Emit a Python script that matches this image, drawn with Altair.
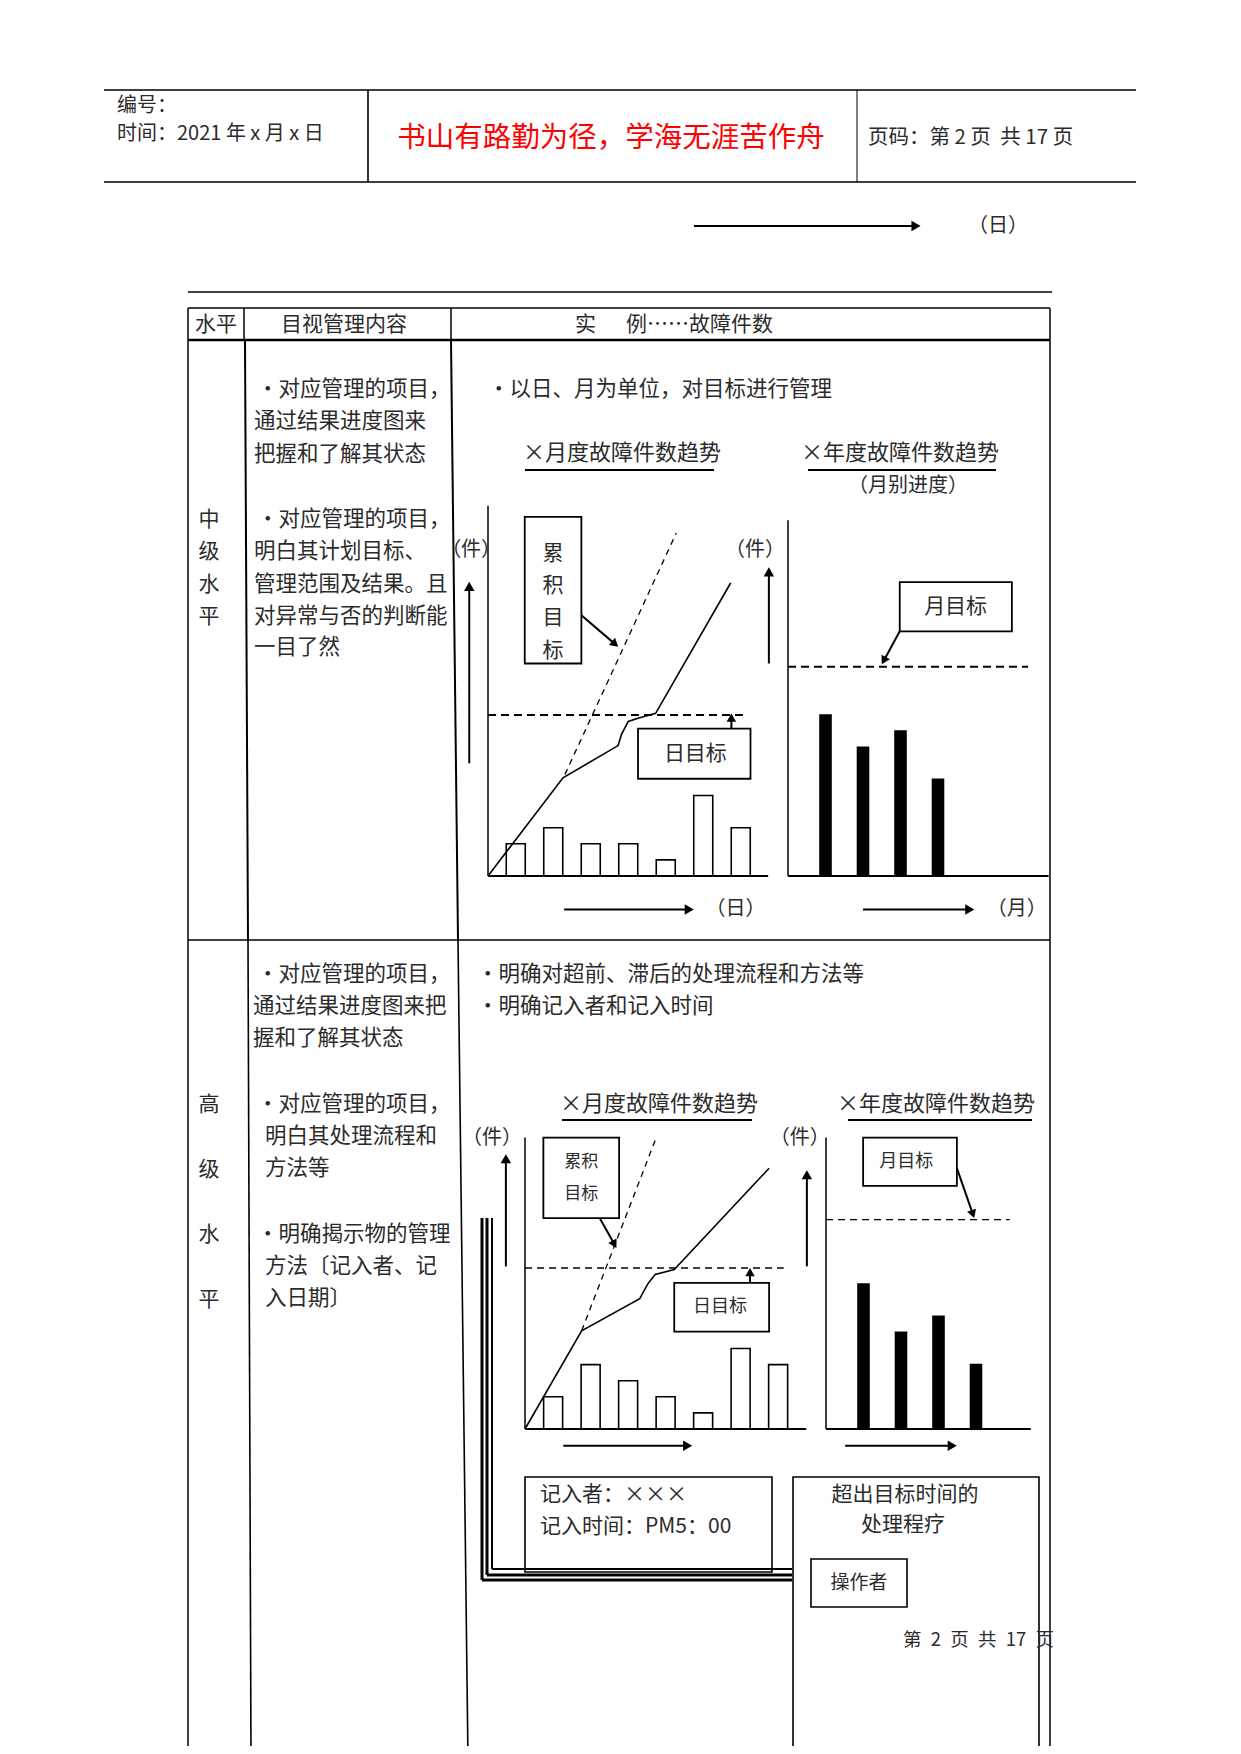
import math
import altair as alt
import pandas as pd

OFF = 8
W, H = 1225, 1738
FONT = "Noto Sans CJK SC"
INK = "#2b2b2b"
NB = "\u00a0"
EN = "\u2002"

# ---------------- chart values ----------------
# 中级水平 · ×月度故障件数趋势 (per day)
mid_days = [1, 2, 3, 4, 5, 6, 7]
mid_daily_faults = [2, 3, 2, 2, 1, 5, 3]
mid_cum_day = [0.26, 2.26, 3.73, 3.82, 4.00, 4.26, 4.73, 6.73]
mid_cum_faults = [0, 6.1, 8.1, 8.8, 9.6, 9.8, 10.1, 18.2]
mid_cum_target_day = [2.31, 5.28]
mid_cum_target = [6.3, 21.3]
mid_daily_target = 10
# 中级水平 · ×年度故障件数趋势 (per month)
mid_months = [1, 2, 3, 4]
mid_monthly_faults = [10, 8, 9, 6]
mid_monthly_target = 13

# 高级水平 · ×月度故障件数趋势
high_days = [1, 2, 3, 4, 5, 6, 7]
high_daily_faults = [2, 4, 3, 2, 1, 5, 4]
high_cum_day = [0.25, 1.76, 3.31, 3.52, 3.72, 4.23, 6.76]
high_cum_faults = [0, 6.1, 8.1, 9.0, 9.6, 9.9, 16.2]
high_cum_target_day = [1.76, 3.75]
high_cum_target = [6.1, 18.1]
high_daily_target = 10
# 高级水平 · ×年度故障件数趋势
high_months = [1, 2, 3, 4]
high_monthly_faults = [9, 6, 7, 4]
high_monthly_target = 13


def ang(dx, dy):
    return math.degrees(math.atan2(dx, -dy)) % 360


# ---------------- page layout (table, header, text) ----------------
L_lines, L_texts, L_heads, L_rects = [], [], [], []


def seg(x1, y1, x2, y2, w=1.5):
    L_lines.append(dict(x=x1 - OFF, y=y1 - OFF, x2=x2 - OFF, y2=y2 - OFF, w=w))


def txt(s, x, y, size=21.5, align="left", color=INK):
    L_texts.append(dict(t=s, x=x - OFF, y=y - OFF, s=size, al=align, c=color))


def box(x1, y1, x2, y2):
    L_rects.append(dict(x=x1 - OFF, y=y1 - OFF, x2=x2 - OFF, y2=y2 - OFF))


def arrow_px(x1, y1, x2, y2, w=2, hs=110, back=5):
    dx, dy = x2 - x1, y2 - y1
    L = math.hypot(dx, dy)
    cx, cy = x2 - dx / L * back, y2 - dy / L * back
    seg(x1, y1, cx, cy, w)
    L_heads.append(dict(x=cx - OFF, y=cy - OFF, a=ang(dx, dy), s=hs))


# header
seg(104, 90, 1136, 90, 1.3)
seg(104, 182, 1136, 182, 1.3)
seg(368, 90, 368, 182, 1.6)
seg(857, 90, 857, 182, 1)
txt("编号：", 117, 106, 20)
txt("时间：2021 年 x 月 x 日", 117, 134, 20)
txt("书山有路勤为径，学海无涯苦作舟", 611, 138, 28.5, "center", "#ff0000")
txt("页码：第" + NB + "2" + NB + "页" + NB + NB + "共" + NB + "17" + NB + "页", 868, 138, 20.5)

# top arrow
arrow_px(694, 226, 921, 226, 2.2)
txt("（日）", 998, 226, 20, "center")
seg(188, 292, 1052, 292, 1.6)

# table frame
seg(188, 308, 1050, 308, 1.5)
seg(188, 340, 1050, 340, 2.6)
seg(188, 308, 188, 1760, 1.5)
seg(1050, 308, 1050, 1760, 1.5)
seg(188, 940, 1050, 940, 1.5)
seg(244, 308, 244, 340, 1.5)
seg(245, 340, 248, 940, 2)
seg(248, 940, 251, 1760, 1.6)
seg(451, 308, 451, 340, 1.5)
seg(451, 340, 458, 940, 2)
seg(458, 940, 468, 1760, 1.6)

txt("水平", 216, 325, 21, "center")
txt("目视管理内容", 344, 325, 21, "center")
txt("实", 575, 325, 21)
txt("例……故障件数", 626, 325, 21)

# row 1 : 中级水平
for ch, yy in zip("中级水平", [520, 552, 585, 617]):
    txt(ch, 209, yy, 21, "center")
row1_col2 = [("•对应管理的项目，", 257, 390), ("通过结果进度图来", 254, 422),
             ("把握和了解其状态", 254, 455), ("•对应管理的项目，", 257, 520),
             ("明白其计划目标、", 254, 552), ("管理范围及结果。且", 254, 585),
             ("对异常与否的判断能", 254, 617), ("一目了然", 254, 648)]
for s, xx, yy in row1_col2:
    txt(s, xx, yy)
txt("•以日、月为单位，对目标进行管理", 488, 390)
txt("×月度故障件数趋势", 622, 453, 22, "center")
seg(525, 470, 714, 470, 2)
txt("×年度故障件数趋势", 900, 453, 22, "center")
seg(808, 470, 996, 470, 2)
txt("（月别进度）", 908, 486, 20, "center")

# row 2 : 高级水平
for ch, yy in zip("高级水平", [1105, 1170, 1235, 1300]):
    txt(ch, 209, yy, 21, "center")
row2_col2 = [("•对应管理的项目，", 257, 975), ("通过结果进度图来把", 253, 1007),
             ("握和了解其状态", 253, 1039), ("•对应管理的项目，", 257, 1105),
             ("明白其处理流程和", 265, 1137), ("方法等", 265, 1169),
             ("•明确揭示物的管理", 257, 1235), ("方法〔记入者、记", 265, 1267),
             ("入日期〕", 265, 1299)]
for s, xx, yy in row2_col2:
    txt(s, xx, yy)
txt("•明确对超前、滞后的处理流程和方法等", 477, 975)
txt("•明确记入者和记入时间", 477, 1007)
txt("×月度故障件数趋势", 659, 1104, 22, "center")
seg(562, 1120, 752, 1120, 2)
txt("×年度故障件数趋势", 936, 1104, 22, "center")
seg(848, 1120, 1032, 1120, 2)

# triple border lines
seg(492, 1218, 492, 1569, 2)
seg(492, 1569, 792, 1569, 2)
seg(487, 1218, 487, 1575, 3)
seg(487, 1575, 792, 1575, 3)
seg(482, 1218, 482, 1580, 3)
seg(482, 1580, 792, 1580, 3)

# bottom boxes
box(525, 1477, 772, 1572)
box(793, 1477, 1039, 1770)
box(811, 1559, 907, 1607)
txt("记入者：×××", 540, 1495, 21)
txt("记入时间：PM5：00", 540, 1527, 21)
txt("超出目标时间的", 905, 1495, 21, "center")
txt("处理程疗", 903, 1525, 21, "center")
txt("操作者", 859, 1583, 19, "center")
txt("第" + EN + "2" + EN + "页" + EN + "共" + EN + "17" + EN + "页", 903, 1640, 18.5)


def layout_chart():
    NX = lambda f: alt.X(f, type="quantitative", scale=None, axis=None)
    NY = lambda f: alt.Y(f, type="quantitative", scale=None, axis=None)
    layers = [
        alt.Chart(pd.DataFrame(L_rects)).mark_rect(fill="white", stroke="black", strokeWidth=1.6)
        .encode(x=NX("x"), x2=alt.X2("x2"), y=NY("y"), y2=alt.Y2("y2")),
        alt.Chart(pd.DataFrame(L_lines)).mark_rule(color="black")
        .encode(x=NX("x"), x2=alt.X2("x2"), y=NY("y"), y2=alt.Y2("y2"),
                strokeWidth=alt.StrokeWidth("w:Q", scale=None, legend=None)),
        alt.Chart(pd.DataFrame(L_heads)).mark_point(shape="triangle-up", filled=True, color="black", opacity=1)
        .encode(x=NX("x"), y=NY("y"), angle=alt.Angle("a:Q", scale=None),
                size=alt.Size("s:Q", scale=None, legend=None)),
    ]
    tdf = pd.DataFrame(L_texts)
    for al in ["left", "center"]:
        layers.append(
            alt.Chart(tdf[tdf.al == al]).mark_text(font=FONT, align=al, baseline="middle")
            .encode(x=NX("x"), y=NY("y"), text="t:N",
                    size=alt.Size("s:Q", scale=None, legend=None),
                    color=alt.Color("c:N", scale=None, legend=None)))
    return alt.layer(*layers)


# ---------------- small charts (drawn through their own scales) ----------------
def mini(ox, oy, ux, uy, x0, xlen, ylen, bars_x, bars_y, bar_size, bar_fill,
         cum=None, cum_target=None, target=None, target_len=None, target_w=2.0,
         target_dash=(8, 5), boxes=(), labels=(), arrows=()):
    xs = alt.Scale(domain=[x0, x0 + 10], range=[ox - OFF, ox - OFF + 10 * ux],
                   nice=False, zero=False, padding=0)
    ys = alt.Scale(domain=[0, 10], range=[oy - OFF, oy - OFF - 10 * uy],
                   nice=False, zero=False, padding=0)
    X = lambda f: alt.X(f, type="quantitative", scale=xs, axis=None)
    Y = lambda f: alt.Y(f, type="quantitative", scale=ys, axis=None)
    layers = []

    segs, heads = [], []

    def s(x1, y1, x2, y2, w):
        segs.append(dict(x=x1 + x0, y=y1, x2=x2 + x0, y2=y2, w=w))

    s(0, 0, 0, ylen, 1.5)
    s(0, 0, xlen, 0, 2)
    for (x1, y1, x2, y2, w, hs) in arrows:
        dxp, dyp = (x2 - x1) * ux, -(y2 - y1) * uy
        L = math.hypot(dxp, dyp)
        back = 5
        hx = x2 - dxp / L * back / ux
        hy = y2 + dyp / L * back / uy
        s(x1, y1, hx, hy, w)
        heads.append(dict(x=hx + x0, y=hy, a=ang(dxp, dyp), s=hs))

    bars = pd.DataFrame({"x": bars_x, "n": bars_y})
    layers.append(alt.Chart(bars).mark_bar(size=bar_size, fill=bar_fill, stroke="black", strokeWidth=1.6)
                  .encode(x=X("x"), y=Y("n"), y2=alt.datum(0)))
    if target is not None:
        tdf = pd.DataFrame({"x": [x0], "x2": [x0 + target_len], "y": [target]})
        layers.append(alt.Chart(tdf).mark_rule(color="black", strokeWidth=target_w, strokeDash=list(target_dash))
                      .encode(x=X("x"), x2=alt.X2("x2"), y=Y("y")))
    if cum_target is not None:
        cdf = pd.DataFrame({"x": cum_target[0], "y": cum_target[1], "o": range(len(cum_target[0]))})
        layers.append(alt.Chart(cdf).mark_line(color="black", strokeWidth=1.3, strokeDash=[6, 5])
                      .encode(x=X("x"), y=Y("y"), order="o:Q"))
    if cum is not None:
        cdf = pd.DataFrame({"x": cum[0], "y": cum[1], "o": range(len(cum[0]))})
        layers.append(alt.Chart(cdf).mark_line(color="black", strokeWidth=1.6)
                      .encode(x=X("x"), y=Y("y"), order="o:Q"))
    if boxes:
        bdf = pd.DataFrame([dict(x=a + x0, x2=b + x0, y=c, y2=d) for a, b, c, d in boxes])
        layers.append(alt.Chart(bdf).mark_rect(fill="white", stroke="black", strokeWidth=1.8)
                      .encode(x=X("x"), x2=alt.X2("x2"), y=Y("y"), y2=alt.Y2("y2")))
    layers.append(alt.Chart(pd.DataFrame(segs)).mark_rule(color="black")
                  .encode(x=X("x"), x2=alt.X2("x2"), y=Y("y"), y2=alt.Y2("y2"),
                          strokeWidth=alt.StrokeWidth("w:Q", scale=None, legend=None)))
    if heads:
        layers.append(alt.Chart(pd.DataFrame(heads)).mark_point(shape="triangle-up", filled=True,
                                                                color="black", opacity=1)
                      .encode(x=X("x"), y=Y("y"), angle=alt.Angle("a:Q", scale=None),
                              size=alt.Size("s:Q", scale=None, legend=None)))
    if labels:
        ldf = pd.DataFrame([dict(t=t, x=a + x0, y=b, s=fs) for t, a, b, fs in labels])
        layers.append(alt.Chart(ldf).mark_text(font=FONT, align="center", baseline="middle", color=INK)
                      .encode(x=X("x"), y=Y("y"), text="t:N",
                              size=alt.Size("s:Q", scale=None, legend=None)))
    return alt.layer(*layers)


UX, UY = 37.5, 16.1

m1 = mini(488, 876, UX, UY, 0.26, 7.47, 23.0, mid_days, mid_daily_faults, 19, "white",
          cum=(mid_cum_day, mid_cum_faults), cum_target=(mid_cum_target_day, mid_cum_target),
          target=mid_daily_target, target_len=6.84, target_w=2.0, target_dash=(8, 5),
          boxes=[(0.98, 2.49, 13.2, 22.3), (4.0, 7.0, 6.04, 9.15)],
          labels=[("累", 1.73, 20.0, 21), ("积", 1.73, 18.0, 21), ("目", 1.73, 16.0, 21),
                  ("标", 1.73, 14.0, 21), ("日目标", 5.53, 7.55, 21),
                  ("（件）", -0.45, 20.25, 20), ("（日）", 6.6, -2.08, 20)],
          arrows=[(2.49, 16.2, 3.49, 14.2, 2, 90), (6.49, 9.15, 6.49, 10.15, 2, 90),
                  (-0.5, 7.0, -0.5, 18.3, 2, 110), (2.03, -2.08, 5.5, -2.08, 2, 110)])

m2 = mini(788, 876, UX, UY, 0.0, 6.95, 22.1, mid_months, mid_monthly_faults, 11, "black",
          target=mid_monthly_target, target_len=6.4, target_w=2.0, target_dash=(8, 5),
          boxes=[(2.98, 5.97, 15.2, 18.25)],
          labels=[("月目标", 4.47, 16.7, 21), ("（件）", -0.88, 20.25, 20), ("（月）", 6.1, -2.08, 20)],
          arrows=[(2.98, 15.2, 2.49, 13.1, 2, 90), (-0.51, 13.2, -0.51, 19.2, 2, 110),
                  (2.0, -2.08, 4.98, -2.08, 2, 110)])

m3 = mini(525, 1429, UX, UY, 0.25, 7.5, 18.1, high_days, high_daily_faults, 19, "white",
          cum=(high_cum_day, high_cum_faults), cum_target=(high_cum_target_day, high_cum_target),
          target=high_daily_target, target_len=6.9, target_w=1.3, target_dash=(7, 5),
          boxes=[(0.49, 2.51, 13.1, 18.1), (3.98, 6.51, 6.05, 9.07)],
          labels=[("累积", 1.5, 16.6, 17), ("目标", 1.5, 14.6, 17), ("日目标", 5.2, 7.56, 18),
                  ("（件）", -0.88, 18.1, 20)],
          arrows=[(1.99, 13.1, 2.45, 11.2, 2, 90), (6.0, 9.07, 6.0, 10.05, 2, 90),
                  (-0.51, 10.1, -0.51, 17.1, 2, 110), (1.02, -1.04, 4.47, -1.04, 2, 110)])

m4 = mini(826, 1429, UX, UY, 0.0, 5.46, 18.1, high_months, high_monthly_faults, 11, "black",
          target=high_monthly_target, target_len=4.9, target_w=1.3, target_dash=(7, 5),
          boxes=[(0.99, 3.49, 15.1, 18.1)],
          labels=[("月目标", 2.14, 16.6, 18), ("（件）", -0.7, 18.1, 20)],
          arrows=[(3.49, 16.2, 3.96, 13.05, 2, 90), (-0.51, 10.1, -0.51, 16.1, 2, 110),
                  (0.51, -1.04, 3.5, -1.04, 2, 110)])

chart = (
    alt.layer(layout_chart(), m1, m2, m3, m4)
    .resolve_scale(x="independent", y="independent")
    .properties(width=W, height=H, padding=0, autosize="none", background="white")
    .configure_view(stroke=None)
)

chart.save("out.html", embed_options={"renderer": "svg", "actions": False})
